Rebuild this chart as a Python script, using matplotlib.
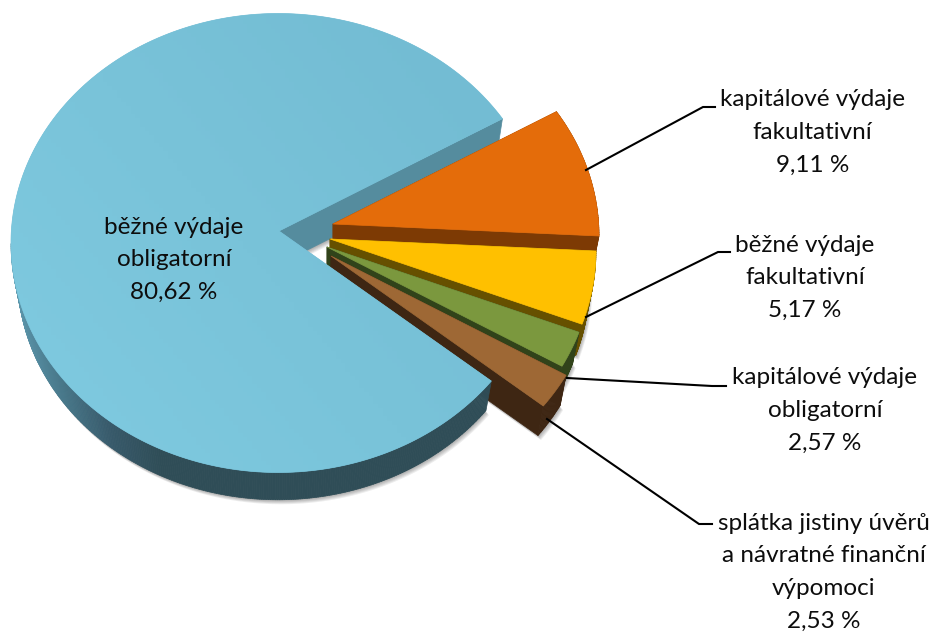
import numpy as np
import matplotlib
matplotlib.use('Agg')
import matplotlib.pyplot as plt
from matplotlib.collections import PolyCollection
from matplotlib.colors import LinearSegmentedColormap
from matplotlib.patches import Polygon

plt.rcParams['font.family'] = ['Lato', 'DejaVu Sans']

# slices clockwise, starting from the upper edge of the orange one
names = ['kapitálové výdaje\nfakultativní', 'běžné výdaje\nfakultativní',
         'kapitálové výdaje\nobligatorní',
         'splátka jistiny úvěrů\na návratné finanční\nvýpomoci',
         'běžné výdaje\nobligatorní']
values = [9.11, 5.17, 2.57, 2.53, 80.62]
value_labels = ['9,11 %', '5,17 %', '2,57 %', '2,53 %', '80,62 %']

top_colors = ['#E46C0A', '#FFC000', '#7B983E', '#9E6835', '#77C0D7']
side_colors = ['#7D3A04', '#665000', '#31431A', '#3E2613', '#2F4D57']

# fake 3D set up, everything in image pixels
start_angle = 32.8
rx, ry = 267, 229.5
big_center = np.array([278.0, 243.0])
shifts = [(54, -7), (51, 8), (48, 16), (52, 25), (0, 0)]  # exploded slices
apex = np.array([1.0, -12.0])   # the tip sits above the arc centre (perspective)
depth = 33
shrink = 0.975

# label box centre, first line y
label_pos = [(812.5, 100), (805, 245), (825, 378), (823.5, 523), (174, 227)]
line_gap = 32.8
leaders = [[(586, 170), (703, 107), (715, 107)],
           [(586, 317), (718, 252), (730, 252)],
           [(567, 378), (712, 386), (726, 386)],
           [(547, 419), (699, 524), (712, 524)]]


def outline(center, a1, a2):
    # top face: tip then the arc from a1 to a2 (degrees, clockwise)
    t = np.radians(np.linspace(a1, a2, max(int(abs(a2 - a1)) * 2, 12)))
    arc = np.column_stack([center[0] + rx * np.cos(t), center[1] - ry * np.sin(t)])
    return np.vstack([center + apex, arc])


def lower(pts, center):
    # same outline at the bottom of the slab
    return center + (pts - center) * shrink + np.array([0, depth])


def side_quads(pts, center):
    low = lower(pts, center)
    quads = []
    for i in range(len(pts)):
        j = (i + 1) % len(pts)
        quads.append([pts[i], pts[j], low[j], low[i]])
    return quads


fig = plt.figure(figsize=(9.34, 6.32), dpi=100)
ax = fig.add_axes([0, 0, 1, 1])

edges = start_angle - np.concatenate([[0], np.cumsum(values)]) * 3.6
centers = [big_center + np.array(s, dtype=float) for s in shifts]
tops = [outline(centers[i], edges[i], edges[i + 1]) for i in range(len(values))]

# soft shadow under the slab
for i in range(len(values)):
    low = lower(tops[i], centers[i])
    for k in range(1, 6):
        ax.add_patch(Polygon(low + [0.6 * k, 0.9 * k], closed=True, fc='black', ec='none',
                             alpha=0.07, zorder=1))

# cut face of the big slice, behind the small slices
big_top = tops[4]
wall = np.vstack([big_top[0], big_top[-1]])
wall_low = lower(wall, centers[4])
ax.add_patch(Polygon(np.vstack([wall, wall_low[::-1]]), closed=True, fc='#558C9E', ec='#558C9E',
                     lw=0.5, zorder=2))

# small slices from back to front
for i in range(4):
    quads = side_quads(tops[i], centers[i])
    ax.add_collection(PolyCollection(quads, facecolors=side_colors[i], edgecolors=side_colors[i],
                                     linewidths=0.5, zorder=3 + i))
    ax.add_patch(Polygon(tops[i], closed=True, fc=top_colors[i], ec=top_colors[i], lw=0.5,
                         zorder=3 + i))

# big slice rim, lighter towards the left, front half only
rim_cmap = LinearSegmentedColormap.from_list('rim', ['#5C96AB', '#477789', '#37596A', side_colors[4]])
arc = big_top[1:]
rim = arc[arc[:, 1] > big_center[1]]
rim_low = lower(rim, centers[4])
rim_quads = [[rim[i], rim[i + 1], rim_low[i + 1], rim_low[i]] for i in range(len(rim) - 1)]
rim_t = np.clip((rim[:-1, 0] - 11) / 150, 0, 1)
rim_rgb = rim_cmap(rim_t)
ax.add_collection(PolyCollection(rim_quads, facecolors=rim_rgb, edgecolors=rim_rgb,
                                 linewidths=0.5, zorder=8))

# big slice top face with a faint gradient
big_patch = Polygon(big_top, closed=True, fc=top_colors[4], ec=top_colors[4], lw=0.5, zorder=9)
ax.add_patch(big_patch)
top_cmap = LinearSegmentedColormap.from_list('top', ['#73BCD3', '#79C3D9', '#7FCAE0'])
gx, gy = np.meshgrid(np.linspace(0, 1, 120), np.linspace(0, 1, 120))
grad = np.clip((1 - gx) * 0.75 + gy * 0.55 - 0.2, 0, 1)
im = ax.imshow(grad, extent=(0, 560, 490, 0), cmap=top_cmap, vmin=0, vmax=1, aspect='auto',
               zorder=9.5)
im.set_clip_path(big_patch)

# leaders and labels
for pts in leaders:
    xs, ys = zip(*pts)
    ax.plot(xs, ys, color='black', lw=1.5, zorder=10, solid_joinstyle='miter')

for name, val, (lx, ly) in zip(names, value_labels, label_pos):
    for n, line in enumerate(name.split('\n') + [val]):
        ax.text(lx, ly + n * line_gap, line, ha='center', va='center', fontsize=17.5,
                color='#0D0D0D', zorder=11)

ax.set_xlim(0, 934)
ax.set_ylim(632, 0)
ax.axis('off')

fig.savefig('out.png', dpi=100, facecolor='white')
